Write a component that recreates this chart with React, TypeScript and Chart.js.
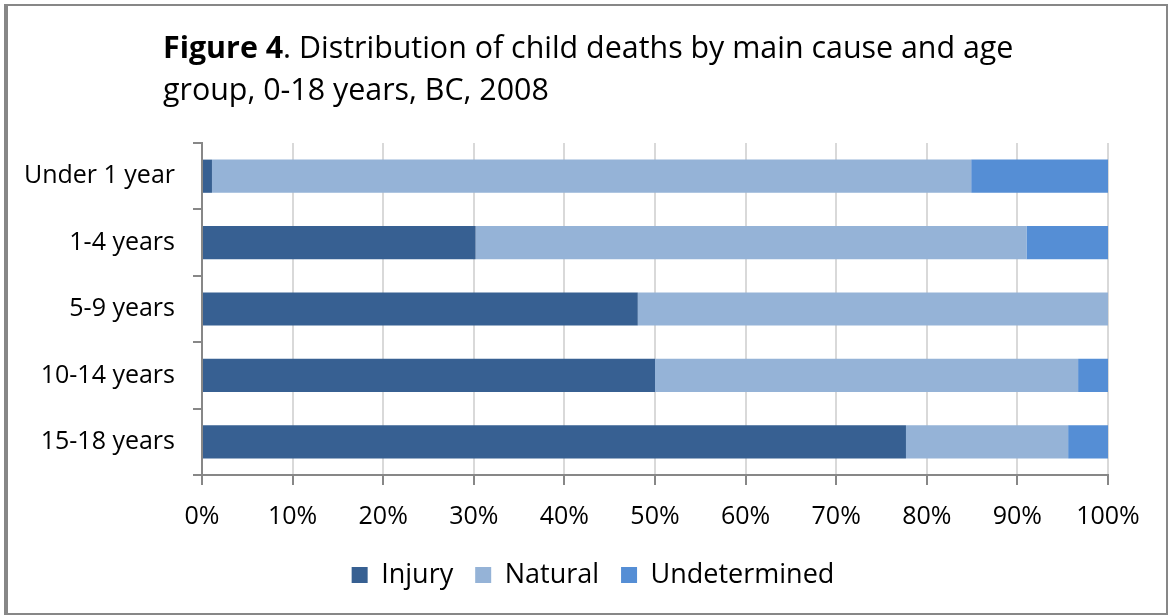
import React, { useEffect, useRef } from "react";
import { Chart, registerables } from "chart.js";

Chart.register(...registerables);

const categories = ["Under 1 year", "1-4 years", "5-9 years", "10-14 years", "15-18 years"];
const injury = [1.1, 30.2, 48.1, 50.0, 77.7];
const natural = [83.8, 60.8, 51.9, 46.7, 17.9];
const undetermined = [15.1, 9.0, 0, 3.3, 4.4];
const xTicks = [0, 10, 20, 30, 40, 50, 60, 70, 80, 90, 100];
const titleBold = "Figure 4";
const titleRest = ". Distribution of child deaths by main cause and age";
const titleLine2 = "group, 0-18 years, BC, 2008";

const FONT = "'Open Sans', 'Noto Sans', sans-serif";

const framePlugin = {
  id: "frameAndTitle",
  afterLayout(chart: any) {
    const lg = chart.legend;
    if (lg) {
      lg.left += 39;
      lg.right += 39;
    }
  },
  beforeDraw(chart: any) {
    const ctx = chart.ctx;
    ctx.save();
    ctx.fillStyle = "#ffffff";
    ctx.fillRect(0, 0, chart.width, chart.height);
    ctx.fillStyle = "#878787";
    ctx.fillRect(4, 4, 1164, 2);
    ctx.fillRect(4, 4, 4, 611);
    ctx.fillRect(1166, 4, 2, 611);
    ctx.fillRect(4, 613, 1164, 2);
    ctx.restore();
  },
  afterDraw(chart: any) {
    const ctx = chart.ctx;
    ctx.save();
    ctx.fillStyle = "#000000";
    ctx.textBaseline = "alphabetic";
    ctx.textAlign = "left";
    ctx.font = `bold 30.4px ${FONT}`;
    ctx.fillText(titleBold, 163, 58);
    const w = ctx.measureText(titleBold).width;
    ctx.font = `30.4px ${FONT}`;
    ctx.fillText(titleRest, 163 + w, 58);
    ctx.fillText(titleLine2, 163, 100);
    ctx.restore();
  },
};

export default function App() {
  const ref = useRef<HTMLCanvasElement>(null);
  useEffect(() => {
    document.body.style.margin = "0";
    const chart = new Chart(ref.current as HTMLCanvasElement, {
      type: "bar",
      data: {
        labels: categories,
        datasets: [
          { label: "Injury", data: injury, backgroundColor: "#376092" },
          { label: "Natural", data: natural, backgroundColor: "#95B3D7" },
          { label: "Undetermined", data: undetermined, backgroundColor: "#558ED5" },
        ],
      },
      options: {
        indexAxis: "y",
        responsive: false,
        animation: false,
        layout: { padding: { top: 143, right: 61, left: 0, bottom: 16.5 } },
        datasets: { bar: { categoryPercentage: 1, barPercentage: 0.5 } },
        plugins: {
          legend: {
            position: "bottom",
            labels: {
              boxWidth: 16,
              boxHeight: 16,
              padding: 22,
              color: "#000",
              font: { family: FONT, size: 27 },
            },
          },
          tooltip: { enabled: false },
        },
        scales: {
          x: {
            stacked: true,
            min: 0,
            max: 100,
            afterBuildTicks(scale: any) {
              scale.ticks = xTicks.map((v) => ({ value: v }));
            },
            afterFit(scale: any) {
              scale.height = 64.5;
            },
            ticks: {
              color: "#000",
              padding: 17,
              maxRotation: 0,
              font: { family: FONT, size: 25 },
              callback: (v: any) => v + "%",
            },
            grid: {
              color: "#d9d9d9",
              lineWidth: 2,
              tickColor: "#878787",
              tickLength: 10,
            },
            border: { color: "#878787", width: 2 },
          },
          y: {
            stacked: true,
            afterFit(scale: any) {
              scale.width = 202;
            },
            ticks: {
              color: "#000",
              padding: 18,
              font: { family: FONT, size: 25 },
            },
            grid: {
              drawOnChartArea: false,
              offset: true,
              tickColor: "#878787",
              tickLength: 9,
              lineWidth: 2,
            },
            border: { color: "#878787", width: 2 },
          },
        },
      },
      plugins: [framePlugin],
    } as any);
    return () => chart.destroy();
  }, []);
  return <canvas ref={ref} width={1169} height={615} style={{ display: "block" }} />;
}
